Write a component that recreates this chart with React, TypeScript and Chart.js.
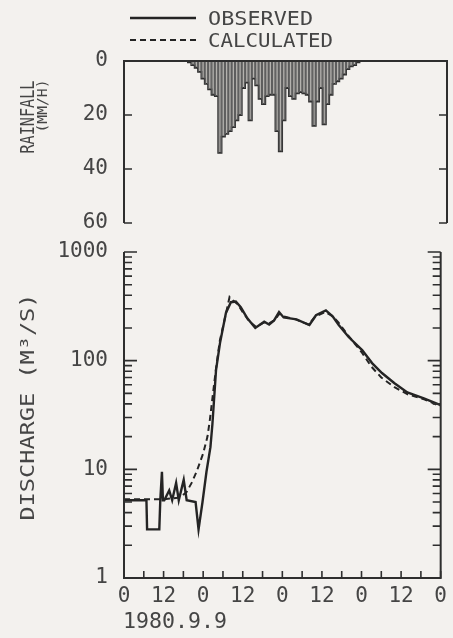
import React, { useEffect, useRef } from 'react';
import { Chart, registerables } from 'chart.js';

Chart.register(...registerables);

// ---------------- data ----------------
const rainStartHour = 19;
const rainfall = [
  0.5, 1.5, 2.5, 4, 6.5, 8.5, 10.5, 12.5, 13, 34, 28, 27, 26, 24.5, 22, 20, 10, 8, 22, 6.5,
  9, 14, 16, 13, 12.5, 12.5, 26, 33.5, 22, 10, 13, 14, 12, 11.5, 12, 12.5, 15, 24, 15, 10,
  23.5, 16, 12.5, 8.5, 7.5, 6.5, 5, 3, 2, 1.5, 0.5,
];

const obsHours = [
  0, 6.8, 7.0, 10.7, 11.0, 11.5, 11.8, 12.2, 13.7, 14.6, 15.8, 16.6, 18.1, 19.0, 21.7, 22.6,
  23.8, 25.0, 26.2, 26.8, 27.9, 29.1, 30.9, 32.4, 33.9, 35.4, 37.4, 39.8, 42.5, 44.0, 45.5, 47.0,
  48.4, 52.3, 56.2, 58.2, 61.2, 63.3, 65.1, 68.1, 72.2, 75.2, 78.2, 82.0, 85.9, 90.9, 96,
];
const obsDischarge = [
  5.2, 5.2, 2.8, 2.8, 5.2, 9.5, 5.2, 5.2, 6.4, 5.2, 7.5, 5.2, 8, 5.2, 5.0, 2.8,
  5, 9.5, 16, 26, 82, 145, 275, 345, 350, 310, 245, 200, 228, 215, 235, 280,
  250, 240, 213, 262, 290, 255, 213, 165, 125, 95, 77, 62, 51, 45, 39,
];

const calcHours = [
  0, 12, 17, 19, 20.5, 22, 24, 25.3, 26, 26.8, 27.9, 29, 31, 32, 33, 34.5, 36, 38, 40,
  42.5, 44, 46, 47, 48.5, 52, 56, 58, 61, 63, 65, 68, 72, 75, 78, 82, 86, 91, 96,
];
const calcDischarge = [
  5.3, 5.3, 5.5, 6.2, 7.5, 9.5, 14, 20, 28, 45, 85, 150, 280, 385, 360, 330, 280, 230, 205,
  225, 220, 240, 270, 255, 240, 215, 255, 280, 260, 225, 170, 120, 88, 70, 57, 49, 44, 38,
];

const rainTicks = [0, 20, 40, 60];
const dischargeTicks = [1, 10, 100, 1000];
const hourTicks = [0, 12, 24, 36, 48, 60, 72, 84, 96];
const hourLabels = ['0', '12', '0', '12', '0', '12', '0', '12', '0'];
const minorHourTicks = [0, 6, 12, 18, 24, 30, 36, 42, 48, 54, 60, 66, 72, 78, 84, 90, 96];
const dateLabel = '1980.9.9';
const legendLabels = ['OBSERVED', 'CALCULATED'];
const rainTitle = ['RAINFALL', '(MM/H)'];
const dischargeTitle = 'DISCHARGE (M\u00B3/S)';

// ---------------- styles ----------------
const FONT = "'DejaVu Sans Mono', 'Liberation Mono', monospace";
const BG = '#f3f1ee';
const INK = '#2e2e2e';
const TXT = '#454545';
const W = 453;
const H = 638;
const OBS_STYLE = { color: '#242424', width: 2.4, dash: [] as number[] };
const CALC_STYLE = { color: '#242424', width: 2, dash: [6, 4] };

function fitText(
  ctx: CanvasRenderingContext2D,
  text: string,
  x: number,
  y: number,
  size: number,
  target: number,
  align: CanvasTextAlign,
  rotated: boolean,
) {
  ctx.save();
  ctx.font = `${size}px ${FONT}`;
  const w = ctx.measureText(text).width;
  const s = target / w;
  ctx.translate(x, y);
  if (rotated) ctx.rotate(-Math.PI / 2);
  ctx.scale(s, 1);
  ctx.textAlign = align;
  ctx.textBaseline = 'middle';
  ctx.fillStyle = TXT;
  ctx.fillText(text, 0, 0);
  ctx.restore();
}

const topFrame = {
  id: 'topFrame',
  afterDraw(chart: any) {
    const { ctx, chartArea } = chart;
    const { left, right, top, bottom } = chartArea;
    const y = chart.scales.y;
    ctx.save();
    ctx.strokeStyle = INK;
    ctx.lineWidth = 2;
    ctx.beginPath();
    ctx.moveTo(left, bottom);
    ctx.lineTo(left, top);
    ctx.lineTo(right, top);
    ctx.lineTo(right, bottom);
    ctx.stroke();
    ctx.lineWidth = 1.6;
    rainTicks.forEach((v) => {
      if (v === 0) return;
      const py = y.getPixelForValue(v);
      ctx.beginPath();
      ctx.moveTo(left, py);
      ctx.lineTo(left + 8, py);
      ctx.moveTo(right, py);
      ctx.lineTo(right - 8, py);
      ctx.stroke();
    });
    // legend
    const styles = [OBS_STYLE, CALC_STYLE];
    const rows = [18, 40];
    styles.forEach((st, i) => {
      ctx.save();
      ctx.strokeStyle = st.color;
      ctx.lineWidth = st.width;
      ctx.setLineDash(st.dash);
      ctx.beginPath();
      ctx.moveTo(130, rows[i]);
      ctx.lineTo(196, rows[i]);
      ctx.stroke();
      ctx.restore();
    });
    fitText(ctx, legendLabels[0], 208, 20, 19, 105, 'left', false);
    fitText(ctx, legendLabels[1], 208, 42, 19, 125, 'left', false);
    // axis title
    fitText(ctx, rainTitle[0], 29, 117, 19, 73, 'center', true);
    fitText(ctx, rainTitle[1], 43.5, 106, 14, 53, 'center', true);
    ctx.restore();
  },
};

const bottomFrame = {
  id: 'bottomFrame',
  afterDraw(chart: any) {
    const { ctx, chartArea } = chart;
    const { left, right, top, bottom } = chartArea;
    const x = chart.scales.x;
    const y = chart.scales.y;
    ctx.save();
    ctx.strokeStyle = INK;
    ctx.lineWidth = 2;
    ctx.beginPath();
    ctx.moveTo(left, top);
    ctx.lineTo(left, bottom);
    ctx.lineTo(right, bottom);
    ctx.lineTo(right, top);
    ctx.stroke();
    ctx.lineWidth = 1.6;
    const decades = dischargeTicks.slice(0, -1);
    const marks: Array<[number, number]> = [];
    decades.forEach((d) => {
      for (let k = 1; k <= 9; k++) marks.push([k * d, k === 1 ? 13 : 8]);
    });
    marks.push([dischargeTicks[dischargeTicks.length - 1], 13]);
    marks.forEach(([v, len]) => {
      const py = y.getPixelForValue(v);
      ctx.beginPath();
      ctx.moveTo(left, py);
      ctx.lineTo(left + len, py);
      ctx.moveTo(right, py);
      ctx.lineTo(right - len, py);
      ctx.stroke();
    });
    minorHourTicks.forEach((h) => {
      const px = x.getPixelForValue(h);
      ctx.beginPath();
      ctx.moveTo(px, bottom);
      ctx.lineTo(px, bottom - 7);
      ctx.stroke();
    });
    fitText(ctx, dischargeTitle, 29.5, 407, 19, 227, 'center', true);
    fitText(ctx, dateLabel, 123, 623, 21, 104, 'left', false);
    ctx.restore();
  },
};

export default function App() {
  const topRef = useRef<HTMLCanvasElement>(null);
  const botRef = useRef<HTMLCanvasElement>(null);

  useEffect(() => {
    const tickFont = { family: FONT, size: 21 };
    const stepData = [
      { x: rainStartHour, y: 0 },
      ...rainfall.map((v, i) => ({ x: rainStartHour + i, y: v })),
      { x: rainStartHour + rainfall.length, y: 0 },
    ];
    const top = new Chart(topRef.current as HTMLCanvasElement, {
      type: 'bar',
      data: {
        datasets: [
          {
            type: 'bar',
            label: 'RAINFALL hatch',
            data: rainfall.map((v, i) => ({ x: rainStartHour + i + 0.5, y: v })),
            backgroundColor: 'rgba(0,0,0,0)',
            borderColor: '#5e5e5e',
            borderWidth: { top: 0, left: 0.7, right: 0.7, bottom: 0 },
            borderSkipped: false,
            barPercentage: 1,
            categoryPercentage: 1,
            order: 0,
          } as any,
          {
            type: 'line',
            label: 'RAINFALL',
            data: stepData,
            stepped: 'before',
            fill: 'origin',
            backgroundColor: '#b4b2ae',
            borderColor: '#2e2e2e',
            borderWidth: 1.8,
            pointRadius: 0,
            order: 1,
          } as any,
        ],
      },
      options: {
        responsive: false,
        animation: false,
        devicePixelRatio: 1,
        layout: { padding: { top: 61, bottom: H - 223, left: 0, right: 6 } },
        plugins: { legend: { display: false }, tooltip: { enabled: false } },
        scales: {
          x: { type: 'linear', min: 0, max: 96, display: false, offset: false },
          y: {
            type: 'linear',
            reverse: true,
            min: 0,
            max: 60,
            position: 'left',
            afterFit: (s: any) => {
              s.width = 124;
            },
            afterBuildTicks: (s: any) => {
              s.ticks = rainTicks.map((v) => ({ value: v }));
            },
            ticks: { font: tickFont, color: TXT, padding: 16 },
            grid: { display: false, drawTicks: false },
            border: { display: false },
          },
        },
      } as any,
      plugins: [topFrame],
    });

    const bot = new Chart(botRef.current as HTMLCanvasElement, {
      type: 'line',
      data: {
        datasets: [
          {
            label: legendLabels[0],
            data: obsHours.map((h, i) => ({ x: h, y: obsDischarge[i] })),
            borderColor: OBS_STYLE.color,
            borderWidth: OBS_STYLE.width,
            borderDash: OBS_STYLE.dash,
            pointRadius: 0,
            tension: 0,
            fill: false,
          },
          {
            label: legendLabels[1],
            data: calcHours.map((h, i) => ({ x: h, y: calcDischarge[i] })),
            borderColor: CALC_STYLE.color,
            borderWidth: CALC_STYLE.width,
            borderDash: CALC_STYLE.dash,
            pointRadius: 0,
            tension: 0,
            fill: false,
          },
        ],
      },
      options: {
        responsive: false,
        animation: false,
        devicePixelRatio: 1,
        layout: { padding: { top: 252, bottom: 20, left: 0, right: 6 } },
        plugins: { legend: { display: false }, tooltip: { enabled: false } },
        scales: {
          x: {
            type: 'linear',
            min: 0,
            max: 96,
            afterFit: (s: any) => {
              s.height = 40;
            },
            afterBuildTicks: (s: any) => {
              s.ticks = hourTicks.map((v) => ({ value: v }));
            },
            ticks: {
              font: tickFont,
              color: TXT,
              padding: 6,
              maxRotation: 0,
              autoSkip: false,
              callback: (v: any) => hourLabels[hourTicks.indexOf(Number(v))],
            },
            grid: { display: false, drawTicks: false },
            border: { display: false },
          },
          y: {
            type: 'logarithmic',
            min: 1,
            max: 1000,
            position: 'left',
            afterFit: (s: any) => {
              s.width = 124;
            },
            afterBuildTicks: (s: any) => {
              s.ticks = dischargeTicks.map((v) => ({ value: v }));
            },
            ticks: {
              font: tickFont,
              color: TXT,
              padding: 16,
              callback: (v: any) => String(v),
            },
            grid: { display: false, drawTicks: false },
            border: { display: false },
          },
        },
      } as any,
      plugins: [bottomFrame],
    });

    return () => {
      top.destroy();
      bot.destroy();
    };
  }, []);

  return (
    <div
      style={{
        position: 'absolute',
        left: 0,
        top: 0,
        width: W,
        height: H,
        background: BG,
        overflow: 'hidden',
      }}
    >
      <canvas ref={topRef} width={W} height={H} style={{ position: 'absolute', left: 0, top: 0 }} />
      <canvas ref={botRef} width={W} height={H} style={{ position: 'absolute', left: 0, top: 0 }} />
    </div>
  );
}
